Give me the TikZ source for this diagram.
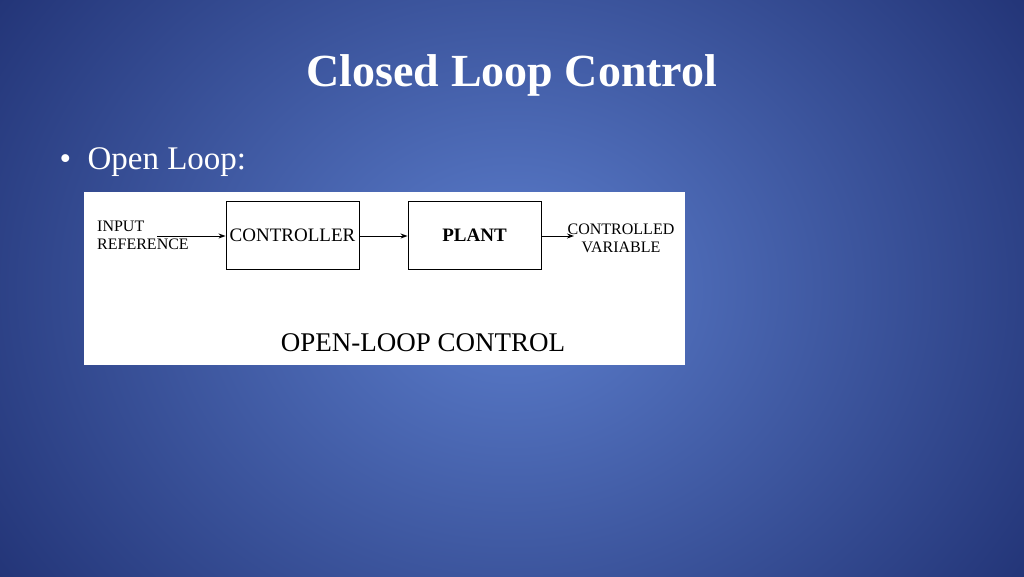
\documentclass[tikz,border=0pt]{standalone}
\usepackage{fontspec}
\setmainfont{Liberation Serif}
\usetikzlibrary{arrows.meta}
\begin{document}
\begin{tikzpicture}[x=1pt,y=-1pt,
  blk/.style={draw=black,line width=0.9pt,minimum width=133pt,minimum height=68pt,inner sep=0pt,font=\fontsize{19}{21}\selectfont},
  lbl/.style={inner sep=0pt,font=\fontsize{16}{17}\selectfont},
  arr/.style={-{Stealth[length=7pt,width=5pt]},line width=0.9pt}]
\useasboundingbox (0,0) rectangle (1024,576);
\shade[inner color={rgb,255:red,92;green,126;blue,205},outer color={rgb,255:red,22;green,36;blue,100}] (-250,-350) rectangle (1274,926);
\node[text=white,font=\bfseries\fontsize{46}{50}\selectfont] (title) at (512,75) {Closed Loop Control};
\node[text=white,anchor=west,font=\fontsize{33}{36}\selectfont] (bul) at (56,162) {\textbullet\ \ Open Loop:};
\fill[white] (84,192) rectangle (685,365);
\node[blk] (ctrl) at (292.5,235) {CONTROLLER};
\node[blk] (plant) at (474.5,235) {\textbf{PLANT}};
\node[lbl,anchor=west] (inp1) at (97,226) {INPUT};
\node[lbl,anchor=west] (inp2) at (97,244) {REFERENCE};
\node[lbl] (out1) at (621,229) {CONTROLLED};
\node[lbl] (out2) at (621,247) {VARIABLE};
\coordinate (s) at (157,236);
\coordinate (e) at (574,236);
\draw[arr] (s) -- (s-|ctrl.west);
\draw[arr] (ctrl.east|-s) -- (plant.west|-s);
\draw[arr] (plant.east|-s) -- (e);
\node[font=\fontsize{27}{29}\selectfont] (cap) at (423,343) {OPEN-LOOP CONTROL};
\end{tikzpicture}
\end{document}
